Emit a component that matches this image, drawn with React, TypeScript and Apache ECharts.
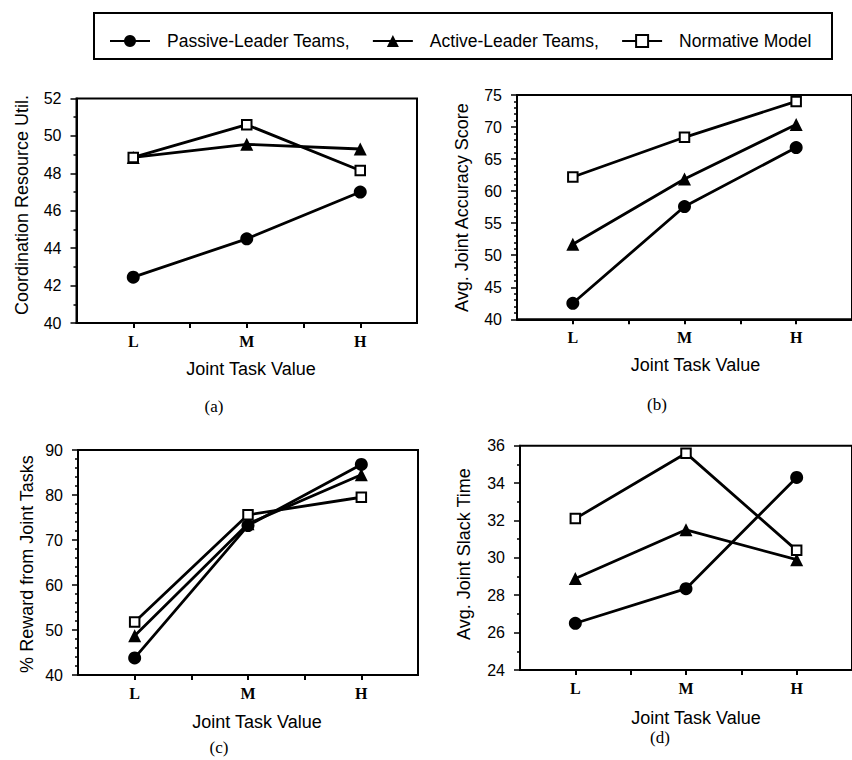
import React, { useEffect, useRef } from "react";
import * as echarts from "echarts";

const categories = ["L", "M", "H"];
const seriesNames = ["Passive-Leader Teams,", "Active-Leader Teams,", "Normative Model"];

// (a) Coordination Resource Util.
const coordPassive = [42.45, 44.5, 47.0];
const coordActive = [48.85, 49.55, 49.3];
const coordNormative = [48.85, 50.6, 48.15];

// (b) Avg. Joint Accuracy Score
const accuracyPassive = [42.5, 57.6, 66.8];
const accuracyActive = [51.7, 61.9, 70.4];
const accuracyNormative = [62.2, 68.4, 74.0];

// (c) % Reward from Joint Tasks
const rewardPassive = [43.8, 73.2, 86.8];
const rewardActive = [48.7, 73.6, 84.5];
const rewardNormative = [51.8, 75.6, 79.5];

// (d) Avg. Joint Slack Time
const slackPassive = [26.5, 28.35, 34.3];
const slackActive = [28.9, 31.5, 29.9];
const slackNormative = [32.1, 35.6, 30.4];

const yAxisNames = [
  "Coordination Resource Util.",
  "Avg. Joint Accuracy Score",
  "% Reward from Joint Tasks",
  "Avg. Joint Slack Time",
];
const xAxisName = "Joint Task Value";
const panelLabels = ["(a)", "(b)", "(c)", "(d)"];

const yRanges = [
  { min: 40, max: 52, interval: 2, minor: 2 },
  { min: 40, max: 75, interval: 5, minor: 5 },
  { min: 40, max: 90, interval: 10, minor: 5 },
  { min: 24, max: 36, interval: 2, minor: 2 },
];

const panelData = [
  [coordPassive, coordActive, coordNormative],
  [accuracyPassive, accuracyActive, accuracyNormative],
  [rewardPassive, rewardActive, rewardNormative],
  [slackPassive, slackActive, slackNormative],
];

// layout
const grids = [
  { left: 76.5, top: 98.5, width: 340.5, height: 224.5 },
  { left: 517, top: 95, width: 340.5, height: 224.3 },
  { left: 78, top: 450, width: 340, height: 225 },
  { left: 520, top: 445.7, width: 340.5, height: 224.3 },
];
const yNamePos = [
  [21.5, 205],
  [462, 207.5],
  [27, 564],
  [463.5, 554],
];
const xNamePos = [
  [251, 368.5],
  [695.5, 365],
  [257, 721.5],
  [696, 717.5],
];
const panelLabelPos = [
  [214, 406],
  [657, 404],
  [219, 747],
  [660, 737],
];

const SANS = "'Liberation Sans', Arial, Helvetica, sans-serif";
const SERIF = "'Liberation Serif', 'Times New Roman', serif";

export default function App() {
  const ref = useRef<HTMLDivElement>(null);

  useEffect(() => {
    if (!ref.current) return;
    const chart = echarts.init(ref.current, undefined, { renderer: "svg" });

    const xAxes = grids.map((_, i) => ({
      type: "value",
      gridIndex: i,
      min: 0.5,
      max: 3.5,
      splitLine: { show: false },
      axisLine: { show: true, lineStyle: { color: "#000", width: 2 } },
      axisTick: {
        show: true,
        inside: false,
        length: 5,
        customValues: [1, 1.5, 2, 2.5, 3],
        lineStyle: { color: "#000", width: 2 },
      },
      axisLabel: {
        show: true,
        customValues: [1, 2, 3],
        formatter: (v: number) => categories[Math.round(v) - 1] ?? "",
        fontFamily: SERIF,
        fontWeight: "bold",
        fontSize: 16,
        color: "#000",
        margin: 10,
      },
    }));

    const yAxes = yRanges.map((r, i) => ({
      type: "value",
      gridIndex: i,
      min: r.min,
      max: r.max,
      interval: r.interval,
      splitLine: { show: false },
      axisLine: { show: true, lineStyle: { color: "#000", width: 2 } },
      axisTick: { show: true, inside: false, length: 6, lineStyle: { color: "#000", width: 1.5 } },
      minorTick: { show: true, splitNumber: r.minor, length: 3, lineStyle: { color: "#000", width: 1.5 } },
      axisLabel: { fontFamily: SANS, fontSize: 16, color: "#000", margin: 15 },
    }));

    const symbols = ["circle", "triangle", "rect"];
    const symbolSizes = [13, 13, 9.5];
    const series: any[] = [];
    panelData.forEach((group, p) => {
      group.forEach((vals, s) => {
        series.push({
          type: "line",
          name: seriesNames[s],
          xAxisIndex: p,
          yAxisIndex: p,
          data: vals.map((v, k) => [k + 1, v]),
          symbol: symbols[s],
          symbolSize: symbolSizes[s],
          showAllSymbol: true,
          lineStyle: { color: "#000", width: 2.8 },
          itemStyle:
            s === 2
              ? { color: "#fff", borderColor: "#000", borderWidth: 2 }
              : { color: "#000", borderColor: "#000", borderWidth: 0 },
          z: 3 + s,
          silent: true,
        });
      });
    });

    const graphics: any[] = [
      {
        type: "rect",
        shape: { x: 94, y: 13, width: 738, height: 46 },
        style: { fill: "none", stroke: "#000", lineWidth: 2 },
        z: 10,
      },
    ];
    yAxisNames.forEach((t, i) => {
      graphics.push({
        type: "text",
        x: yNamePos[i][0],
        y: yNamePos[i][1],
        rotation: Math.PI / 2,
        style: {
          text: t,
          font: `18px ${SANS}`,
          fill: "#000",
          align: "center",
          verticalAlign: "middle",
        },
      });
      graphics.push({
        type: "text",
        x: xNamePos[i][0],
        y: xNamePos[i][1],
        style: {
          text: xAxisName,
          font: `18px ${SANS}`,
          fill: "#000",
          align: "center",
          verticalAlign: "middle",
        },
      });
      graphics.push({
        type: "text",
        x: panelLabelPos[i][0],
        y: panelLabelPos[i][1],
        style: {
          text: panelLabels[i],
          font: `17px ${SERIF}`,
          fill: "#000",
          align: "center",
          verticalAlign: "middle",
        },
      });
    });

    chart.setOption({
      animation: false,
      backgroundColor: "#fff",
      legend: {
        data: seriesNames,
        left: 104,
        top: 27,
        itemWidth: 40,
        itemHeight: 15,
        itemGap: 22,
        textStyle: {
          fontFamily: SANS,
          fontSize: 17.5,
          color: "#000",
          padding: [0, 0, 0, 12],
        },
        selectedMode: false,
      },
      grid: grids.map((g) => ({
        ...g,
        show: true,
        borderColor: "#000",
        borderWidth: 2,
        backgroundColor: "transparent",
        containLabel: false,
      })),
      xAxis: xAxes,
      yAxis: yAxes,
      series,
      graphic: graphics,
    });

    return () => chart.dispose();
  }, []);

  return (
    <div
      ref={ref}
      style={{ position: "fixed", left: 0, top: 0, width: 852, height: 760 }}
    />
  );
}
